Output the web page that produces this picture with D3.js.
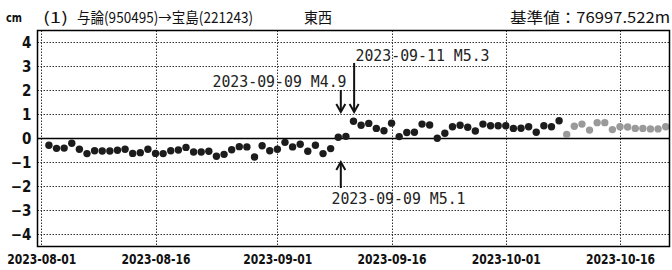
<!DOCTYPE html>
<html><head><meta charset="utf-8">
<script src="https://cdn.jsdelivr.net/npm/d3@7"></script>
<style>
html,body{margin:0;padding:0;background:#fff;}
svg{display:block;}
</style></head>
<body>
<svg id="chart" width="672" height="270"></svg>
<script>
// ---- data ----
const startDate = "2023-08-02";
// final (black) daily values, 2023-08-02 .. 2023-10-08, cm
const finalValues = [
  -0.28,-0.41,-0.40,-0.20,-0.45,-0.63,-0.51,-0.52,-0.52,-0.49,
  -0.45,-0.62,-0.59,-0.45,-0.62,-0.63,-0.51,-0.48,-0.37,-0.56,
  -0.56,-0.53,-0.74,-0.66,-0.47,-0.34,-0.35,-0.77,-0.30,-0.51,
  -0.45,-0.16,-0.35,-0.24,-0.53,-0.28,-0.63,-0.42, 0.05, 0.09,
   0.72, 0.55, 0.63, 0.42, 0.32, 0.64, 0.08, 0.25, 0.26, 0.60,
   0.56, 0.01, 0.22, 0.49, 0.55, 0.47, 0.31, 0.60, 0.53, 0.53,
   0.53, 0.42, 0.43, 0.49, 0.26, 0.53, 0.49, 0.74
];
// provisional (grey) daily values, 2023-10-09 .. 2023-10-22, cm
const provisionalValues = [
   0.17, 0.51, 0.60, 0.35, 0.66, 0.66, 0.37, 0.49, 0.48, 0.42,
   0.42, 0.40, 0.40, 0.49
];
const yTicks = [-4,-3,-2,-1,0,1,2,3,4];
const xTickDates = ["2023-08-01","2023-08-16","2023-09-01","2023-09-16","2023-10-01","2023-10-16"];
const eventTimes = ["2023-09-09T08:00","2023-09-11T02:00","2023-09-09T08:00"];
const eventLabels = ["2023-09-09 M4.9","2023-09-11 M5.3","2023-09-09 M5.1"];
const titleUnit = "cm";
const titleParts = ["(1)","与論(950495)→宝島(221243)","東西"];
const baseValueText = "基準値：76997.522m";

// ---- build ----
const parse = d3.utcParse("%Y-%m-%d");
const parseT = d3.utcParse("%Y-%m-%dT%H:%M");
const allValues = finalValues.concat(provisionalValues);
const d0 = parse(startDate);
const dates = allValues.map((v,i)=>d3.utcDay.offset(d0,i));
const points = allValues.map((v,i)=>({date:dates[i], value:v, provisional: i>=finalValues.length}));

const svg = d3.select("#chart");
const L=37.5, R=669.5, T=30.5, B=246.5;

const x = d3.scaleUtc()
  .domain([d3.utcHour.offset(parse("2023-07-31"),12), d3.utcHour.offset(parse("2023-10-22"),12)])
  .range([L,R]);
const y = d3.scaleLinear().domain([-4.5,4.5]).range([B,T]);

// grid horizontal
svg.append("g").selectAll("line").data(yTicks.filter(t=>t!==0)).join("line")
  .attr("x1",L).attr("x2",R).attr("y1",d=>y(d)).attr("y2",d=>y(d))
  .attr("stroke","#333").attr("stroke-width",1).attr("stroke-dasharray","1.5,1.5");
// grid vertical
svg.append("g").selectAll("line").data(xTickDates.map(parse)).join("line")
  .attr("x1",d=>Math.round(x(d))+0.5).attr("x2",d=>Math.round(x(d))+0.5).attr("y1",T).attr("y2",B)
  .attr("stroke","#333").attr("stroke-width",1).attr("stroke-dasharray","1.5,1.5");
// zero line
svg.append("line").attr("x1",L).attr("x2",R).attr("y1",y(0)).attr("y2",y(0))
  .attr("stroke","#000").attr("stroke-width",1.5);

// y axis labels
const yAxis = d3.axisLeft(y).tickValues(yTicks).tickSize(0).tickPadding(6);
const gy = svg.append("g").attr("transform",`translate(${L},0)`).call(yAxis);
gy.select(".domain").remove();
gy.selectAll("text").attr("font-family","'DejaVu Sans Condensed','DejaVu Sans',sans-serif")
  .attr("font-weight","bold").attr("font-size",15).attr("fill","#111");

// x axis labels
const xAxis = d3.axisBottom(x).tickValues(xTickDates.map(parse)).tickSize(0).tickPadding(8)
  .tickFormat(d3.utcFormat("%Y-%m-%d"));
const gx = svg.append("g").attr("transform",`translate(0,${B})`).call(xAxis);
gx.select(".domain").remove();
gx.selectAll("text").attr("font-family","'DejaVu Sans Condensed','DejaVu Sans',sans-serif")
  .attr("font-weight","bold").attr("font-size",14).attr("fill","#111")
  .attr("textLength",69).attr("lengthAdjust","spacingAndGlyphs");

// points
svg.append("g").selectAll("circle").data(points).join("circle")
  .attr("cx",d=>x(d.date)).attr("cy",d=>y(d.value)).attr("r",3.7)
  .attr("fill",d=>d.provisional?"#9a9a9a":"#1c1c1c");

// frame
svg.append("rect").attr("x",L).attr("y",T).attr("width",R-L).attr("height",B-T)
  .attr("fill","none").attr("stroke","#000").attr("stroke-width",1.5);

// annotations
const annFont = "'DejaVu Sans Mono','Liberation Mono',monospace";
const ann = [
  {t:parseT(eventTimes[0]), label:eventLabels[0], dir:"down", tail:90, tip:112, tx:212.5, ty:87},
  {t:parseT(eventTimes[1]), label:eventLabels[1], dir:"down", tail:63, tip:112, tx:355.5, ty:60.5},
  {t:parseT(eventTimes[2]), label:eventLabels[2], dir:"up", tail:188, tip:162, tx:331.5, ty:204}
];
const ga = svg.append("g");
ann.forEach(a=>{
  const ax = x(a.t);
  ga.append("line").attr("x1",ax).attr("x2",ax).attr("y1",a.tail).attr("y2",a.tip)
    .attr("stroke","#111").attr("stroke-width",2);
  const s = a.dir==="down"? -1 : 1;
  ga.append("path").attr("d",`M${ax-4.5},${a.tip+s*8} L${ax},${a.tip} L${ax+4.5},${a.tip+s*8}`)
    .attr("fill","none").attr("stroke","#111").attr("stroke-width",2);
  ga.append("text").attr("x",a.tx).attr("y",a.ty).text(a.label)
    .attr("font-family",annFont).attr("font-size",16).attr("fill","#222")
    .attr("textLength",134).attr("lengthAdjust","spacingAndGlyphs");
});

// header
const hFont = "'Noto Sans CJK JP',sans-serif";
svg.append("text").attr("x",6).attr("y",22).text(titleUnit)
  .attr("font-family","'DejaVu Sans',sans-serif").attr("font-weight","bold").attr("font-size",13)
  .attr("textLength",16).attr("lengthAdjust","spacingAndGlyphs").attr("fill","#111");
const hdr = [{s:titleParts[0],x:43,w:25},{s:titleParts[1],x:77,w:176},{s:titleParts[2],x:304,w:28},{s:baseValueText,x:510,w:160}];
hdr.forEach(h=>{
  svg.append("text").attr("x",h.x).attr("y",23).text(h.s)
    .attr("font-family",hFont).attr("font-size",15).attr("fill","#111")
    .attr("textLength",h.w).attr("lengthAdjust","spacingAndGlyphs");
});
</script>
</body></html>
